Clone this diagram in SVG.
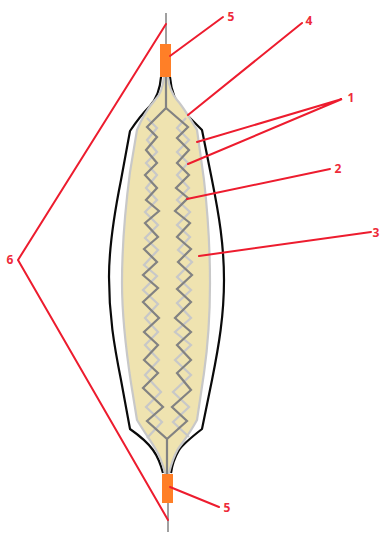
<svg xmlns="http://www.w3.org/2000/svg" width="380" height="533" viewBox="0 0 380 533">
<style>
.wire{fill:none;stroke:#a0a0a0;stroke-width:2}
.cover{fill:#efe3b0;stroke:#c8c8c8;stroke-width:2.2;stroke-linejoin:round}
.outer{fill:none;stroke:#0a0a0a;stroke-width:2.2;stroke-linejoin:round}
.dark{fill:none;stroke:#828282;stroke-width:2.2;stroke-linejoin:miter}
.light{fill:none;stroke:#c8c8c8;stroke-width:2.2;stroke-linejoin:miter}
.tip{fill:#ff7f27}
.lead{fill:none;stroke:#ed1c2e;stroke-width:2;stroke-linecap:round;stroke-linejoin:miter}
.lbl{font-family:"Open Sans","Liberation Sans",sans-serif;font-size:12px;font-weight:700;fill:#ee2b3a;text-anchor:middle}
</style>
<g id="guidewire">
<path class="wire" d="M166 13V44M168 503V532"/>
</g>
<g id="outer-balloon">
<path class="outer" d="M161 77C160 90 157 98 150 106C142 114 136 122 130 131L121 180C114 215 109 245 109 277C109 315 114 345 121 380L130 429C140 436 148 443 153 450C158 457 161 465 163 473"/>
<path class="outer" d="M170 77C171 90 176 103 184 112C190 118 196 124 202 130L212 180C219 215 224 245 224 280C224 315 219 345 212 380L202 429C193 436 184 443 179 450C175 457 172 465 171 473"/>
</g>
<g id="inner-cover">
<path class="cover" d="M164 77C163 88 160 95 155 100C148 108 142 118 137 130L130 172C125 210 122 250 122 283C122 315 126 350 131 383L137 420C143 430 150 440 155 448C160 456 163 465 165 473H169C171 465 174 456 178 449C183 442 190 433 197 420L204 373C208 345 210 315 210 283C210 250 208 215 204 180L197 130C191 120 184 108 177 100C172 94 169 88 168 77Z"/>
</g>
<g id="stent">
<path class="light" d="M147 118L157 128L147 140L157 152L146 163L157 175L146 188L157 200L145 212L158 225L145 238L158 250L144 265L157 276L143 290L158 304L145 318L158 332L145 345L159 360L145 375L161 392L146 407L162 422L147 438"/>
<path class="light" d="M186 118L177 128L189 140L177 152L188 163L177 175L189 188L177 200L190 212L177 225L190 237L178 250L192 262L177 277L191 290L177 303L191 318L175 332L191 345L175 360L191 375L173 392L189 407L173 422L189 437"/>
<path class="dark" d="M166 77V108L147 127L157 137L146 150L157 163L145 175L157 188L146 200L159 211L145 223L158 237L144 249L157 262L143 275L158 288L143 302L159 318L144 332L158 345L144 360L158 373L143 388L163 407L147 421L167 439V474"/>
<path class="dark" d="M166 108L188 127L177 138L189 150L177 163L189 175L176 188L188 198L175 211L190 223L177 237L191 249L178 262L192 275L177 289L191 302L175 318L191 332L177 345L191 360L177 373L191 390L172 407L187 421L167 439"/>
</g>
<g id="tip-top"><rect class="tip" x="160" y="44" width="11" height="33"/></g>
<g id="tip-bottom"><rect class="tip" x="162" y="474" width="11" height="29"/></g>
<g id="connectors">
<path class="lead" d="M170 56L223 17"/>
<path class="lead" d="M188 115L302 23"/>
<path class="lead" d="M197 142L342 99L188 164"/>
<path class="lead" d="M187 199L330 169"/>
<path class="lead" d="M199 256L371 232"/>
<path class="lead" d="M166 24L18 260L168 520"/>
<path class="lead" d="M170 487L219 507"/>
</g>
<g id="labels">
<text class="lbl" x="231" y="21">5</text>
<text class="lbl" x="309" y="25">4</text>
<text class="lbl" x="351" y="102">1</text>
<text class="lbl" x="338" y="173">2</text>
<text class="lbl" x="376" y="237">3</text>
<text class="lbl" x="10" y="264">6</text>
<text class="lbl" x="227" y="512">5</text>
</g>
</svg>
